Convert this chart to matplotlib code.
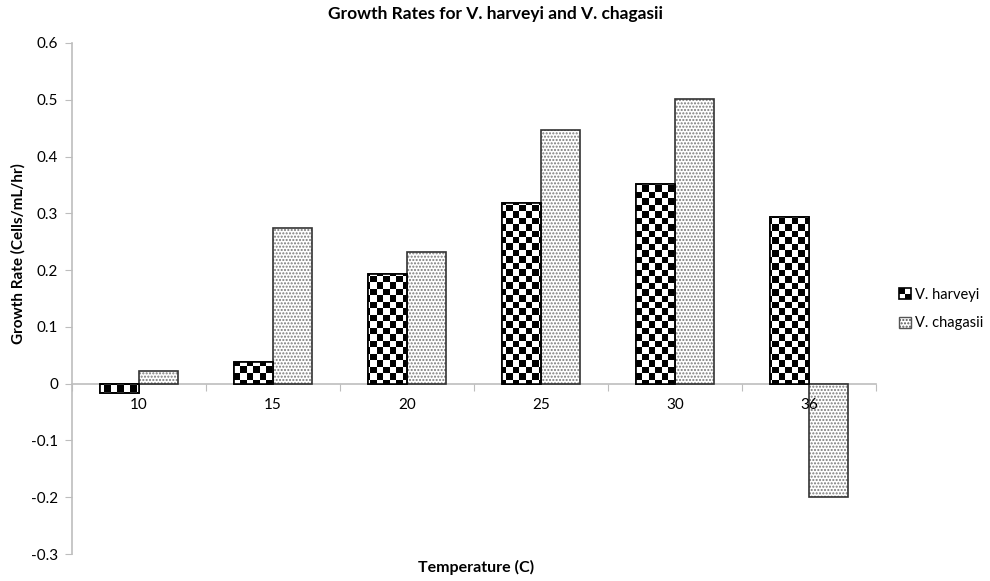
import matplotlib
matplotlib.use('Agg')
import matplotlib.pyplot as plt
import numpy as np
from matplotlib.patches import Patch, Rectangle
from matplotlib.legend_handler import HandlerBase

plt.rcParams['font.family'] = ['Lato', 'DejaVu Sans']

# growth rates read per temperature
temps = ['10', '15', '20', '25', '30', '36']
harveyi = [-0.016, 0.039, 0.193, 0.318, 0.352, 0.294]
chagasii = [0.023, 0.275, 0.232, 0.447, 0.502, -0.200]

axis_grey = '#bdbdbd'

fig = plt.figure(figsize=(9.9, 5.81), dpi=100)
ax = fig.add_axes([72/990, 27/581, 804/990, 511/581])

x = np.arange(len(temps))
w = 0.29

# V. chagasii: grey dotted fill, then a dark outline on top
ax.bar(x + w/2, chagasii, w, color='white', edgecolor='#7a7a7a',
       hatch='.....', linewidth=0, zorder=2)
ax.bar(x + w/2, chagasii, w, fill=False, edgecolor='#333333',
       linewidth=1.2, zorder=4)

# V. harveyi: white bar with a checkerboard texture clipped to it
hv_bars = ax.bar(x - w/2, harveyi, w, color='white', edgecolor='black',
                 linewidth=1.2, zorder=2)
rows, cols = 79, 124
checker = np.indices((rows, cols)).sum(axis=0) % 2
for b in hv_bars:
    im = ax.imshow(checker, cmap='gray', interpolation='nearest',
                   aspect='auto', extent=(-0.5, len(temps) - 0.5, -0.3, 0.6),
                   zorder=3)
    im.set_clip_path(b)
for b in hv_bars:
    ax.add_patch(Rectangle(b.get_xy(), b.get_width(), b.get_height(),
                           fill=False, edgecolor='black', linewidth=1.2,
                           zorder=4))
ax.set_xlim(-0.5, len(temps) - 0.5)
ax.set_ylim(-0.3, 0.6)

# axes styling
for s in ['top', 'right']:
    ax.spines[s].set_visible(False)
ax.spines['bottom'].set_position(('data', 0))
ax.spines['bottom'].set_color(axis_grey)
ax.spines['left'].set_color(axis_grey)
ax.spines['bottom'].set_linewidth(1.2)
ax.spines['left'].set_linewidth(1.2)
ax.spines['bottom'].set_zorder(1)
ax.xaxis.set_zorder(6)

ax.set_yticks(np.round(np.arange(-0.3, 0.61, 0.1), 1))
ax.set_yticklabels(['-0.3', '-0.2', '-0.1', '0', '0.1', '0.2', '0.3',
                    '0.4', '0.5', '0.6'])
ax.tick_params(axis='y', direction='out', length=5, color=axis_grey,
               labelsize=11, pad=5)

ax.set_xticks(np.arange(-0.5, len(temps), 1.0))
ax.set_xticklabels([])
ax.set_xticks(x, minor=True)
ax.set_xticklabels(temps, minor=True)
ax.tick_params(axis='x', which='major', direction='out', length=5,
               color=axis_grey)
ax.tick_params(axis='x', which='minor', length=0, labelsize=11, pad=10)

fig.text(0.5, 1 - 14/581, 'Growth Rates for V. harveyi and V. chagasii',
         ha='center', va='center', fontsize=12.5, fontweight='bold')
fig.text(476/990, 1 - 567/581, 'Temperature (C)', ha='center', va='center',
         fontsize=11.5, fontweight='bold')
fig.text(18/990, 1 - 254/581, 'Growth Rate (Cells/mL/hr)', ha='center',
         va='center', rotation=90, fontsize=11, fontweight='bold')


class CheckerHandler(HandlerBase):
    def create_artists(self, legend, orig_handle, xdescent, ydescent,
                       width, height, fontsize, trans):
        s = min(width, height)
        x0 = xdescent + (width - s) / 2
        y0 = -ydescent
        arts = [Rectangle((x0, y0), s, s, facecolor='white',
                          edgecolor='none', transform=trans)]
        arts.append(Rectangle((x0, y0 + s/2), s/2, s/2, facecolor='black',
                              edgecolor='none', transform=trans))
        arts.append(Rectangle((x0 + s/2, y0), s/2, s/2, facecolor='black',
                              edgecolor='none', transform=trans))
        arts.append(Rectangle((x0, y0), s, s, fill=False, edgecolor='black',
                              linewidth=1.2, transform=trans))
        return arts


hv_handle = Patch(facecolor='white', edgecolor='black')
ch_handle = Patch(facecolor='white', edgecolor='#555555', hatch='.....')
fig.legend([hv_handle, ch_handle], ['V. harveyi', 'V. chagasii'],
           handler_map={hv_handle: CheckerHandler()},
           loc='center left', bbox_to_anchor=(886/990, 1 - 309/581),
           frameon=False, fontsize=10.5, handlelength=0.8, handleheight=0.8,
           handletextpad=0.3, labelspacing=1.0)

fig.savefig('out.png', dpi=100)
